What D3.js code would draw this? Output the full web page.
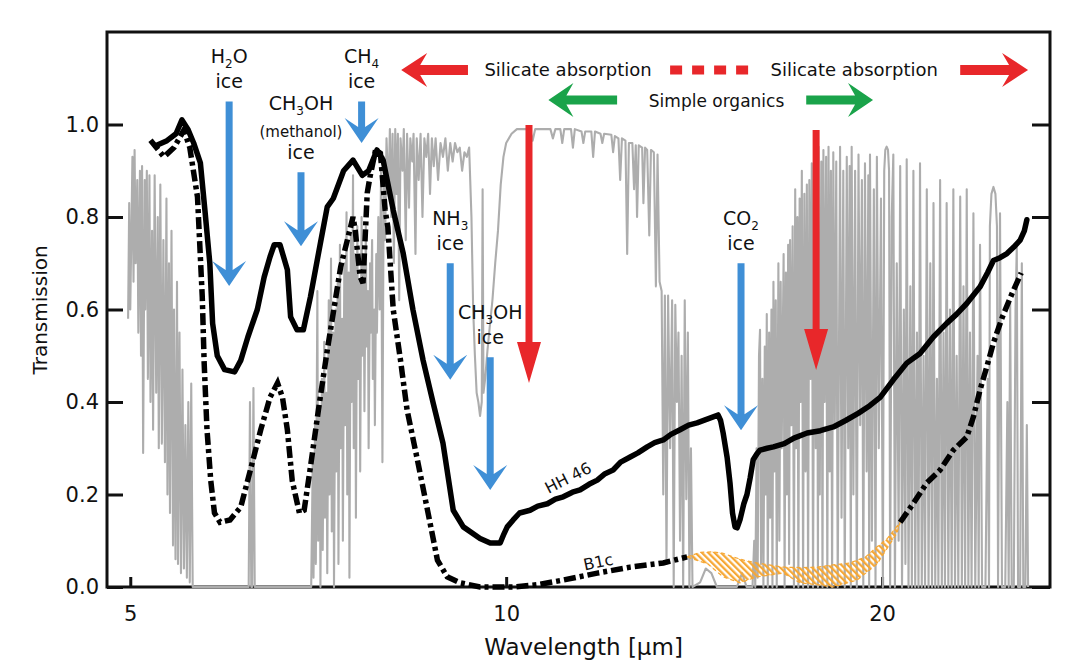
<html>
  <head>
    <title>Ice and silicate absorption</title>
    <script src="https://cdnjs.cloudflare.com/ajax/libs/d3/7.8.5/d3.min.js"></script>
    <meta name="viewport" content="initial-scale=1.0, width=device-width" />
  </head>
  <body>
    <svg id="spectrum"></svg>

    <style>
      body { margin: 0; background: #fff; }
      #spectrum { display: block; font-family: 'DejaVu Sans', sans-serif; }
      .axis path { stroke: none; }
      .axis line { stroke: #111; stroke-width: 3; }
      .axis text { font-family: 'DejaVu Sans', sans-serif; font-size: 21px; fill: #111; }
      .frame { fill: none; stroke: #111; stroke-width: 3; }
      .sky { fill: none; stroke: #adadad; stroke-width: 2.1; stroke-linejoin: round; }
      .hh46 { fill: none; stroke: #000; stroke-width: 5.5; stroke-linejoin: round; stroke-linecap: round; }
      .b1c { fill: none; stroke: #000; stroke-width: 5.5; stroke-dasharray: 12 4 4 4; }
      .label { fill: #111; text-anchor: middle; }
    </style>

    <script>
      // Atmospheric transmission (grey), [wavelength um, transmission]
      const atmosphere = [
        [4.98,0.58],[4.99,0.83],[5.00,0.60],[5.02,0.93],[5.03,0.66],[5.04,0.945],[5.05,0.70],[5.065,0.88],[5.075,0.55],
        [5.09,0.90],[5.10,0.50],[5.11,0.91],[5.12,0.29],[5.135,0.88],[5.14,0.60],[5.155,0.90],[5.165,0.45],[5.18,0.89],
        [5.19,0.40],[5.205,0.77],[5.215,0.34],[5.23,0.89],[5.245,0.42],[5.26,0.80],[5.27,0.30],[5.285,0.87],[5.30,0.31],
        [5.315,0.75],[5.33,0.27],[5.345,0.84],[5.355,0.20],[5.37,0.70],[5.38,0.16],[5.395,0.77],[5.41,0.09],[5.42,0.60],
        [5.435,0.06],[5.45,0.66],[5.46,0.05],[5.475,0.55],[5.49,0.03],[5.505,0.47],[5.52,0.04],[5.535,0.35],[5.55,0.02],
        [5.565,0.40],[5.58,0.01],[5.595,0.44],[5.61,0.0],[6.22,0.0],[6.235,0.40],[6.25,0.0],[6.26,0.0],[6.275,0.43],
        [6.29,0.0],[6.98,0.0],
        [7.00,0.27],[7.01,0.02],[7.03,0.35],[7.04,0.05],[7.06,0.64],[7.07,0.10],[7.09,0.38],[7.10,0.0],[7.12,0.45],
        [7.13,0.08],[7.15,0.53],[7.16,0.15],[7.18,0.42],[7.19,0.03],[7.21,0.62],[7.22,0.20],[7.24,0.71],[7.25,0.12],
        [7.27,0.55],[7.28,0.0],[7.30,0.60],[7.31,0.25],[7.33,0.66],[7.34,0.05],[7.36,0.74],[7.37,0.30],[7.39,0.58],
        [7.40,0.10],[7.42,0.70],[7.43,0.35],[7.45,0.81],[7.46,0.20],[7.48,0.68],[7.49,0.02],[7.51,0.76],[7.52,0.40],
        [7.54,0.89],[7.55,0.30],[7.57,0.72],[7.58,0.15],[7.60,0.78],[7.61,0.45],[7.63,0.66],[7.64,0.25],[7.66,0.80],
        [7.67,0.50],[7.69,0.70],[7.70,0.38],[7.72,0.78],[7.73,0.52],[7.75,0.64],[7.76,0.30],[7.78,0.70],[7.79,0.55],
        [7.81,0.75],[7.82,0.45],[7.84,0.60],[7.85,0.35],[7.87,0.72],[7.88,0.55],[7.90,0.80],[7.92,0.60],[7.94,0.90],
        [7.96,0.27],[7.98,0.93],[8.00,0.75],[8.02,0.97],
        [8.05,0.85],[8.07,0.99],[8.09,0.80],[8.11,0.98],[8.13,0.70],[8.15,0.99],[8.17,0.85],[8.19,0.98],[8.21,0.62],
        [8.23,0.97],[8.26,0.90],[8.28,0.99],[8.31,0.75],[8.33,0.98],[8.36,0.82],[8.38,0.97],[8.41,0.92],[8.43,0.98],
        [8.46,0.72],[8.48,0.97],[8.51,0.88],[8.54,0.98],[8.57,0.80],[8.60,0.97],[8.63,0.93],[8.66,0.98],[8.69,0.85],
        [8.72,0.97],[8.75,0.91],[8.78,0.97],[8.82,0.88],[8.86,0.96],[8.90,0.93],[8.94,0.97],[8.98,0.90],[9.02,0.96],
        [9.06,0.92],[9.10,0.96],[9.14,0.94],[9.18,0.95],[9.22,0.90],[9.26,0.94],[9.30,0.93],
        [9.34,0.95],[9.38,0.80],[9.41,0.60],[9.44,0.50],[9.47,0.42],[9.50,0.40],[9.53,0.37],[9.56,0.40],[9.575,0.86],
        [9.59,0.42],[9.62,0.45],[9.66,0.51],[9.70,0.56],[9.75,0.62],[9.80,0.70],[9.85,0.77],[9.90,0.87],[9.95,0.93],
        [10.0,0.96],[10.1,0.98],
        [10.2,0.99],[10.45,0.99],[10.5,0.965],[10.55,0.99],[10.85,0.99],[10.9,0.97],[10.95,0.99],[11.05,0.99],[11.09,0.96],
        [11.13,0.99],[11.27,0.99],[11.31,0.95],[11.35,0.99],[11.49,0.985],[11.53,0.96],[11.57,0.985],[11.7,0.985],
        [11.74,0.93],[11.78,0.985],[11.9,0.98],[11.94,0.96],[11.98,0.98],[12.14,0.978],[12.18,0.94],[12.22,0.975],
        [12.3,0.97],[12.34,0.88],[12.38,0.97],[12.46,0.965],[12.50,0.72],[12.54,0.96],[12.62,0.96],[12.66,0.86],
        [12.70,0.955],[12.73,0.80],[12.77,0.955],[12.85,0.95],[12.88,0.83],[12.92,0.95],[12.97,0.945],[13.02,0.76],
        [13.06,0.945],[13.13,0.94],[13.18,0.65],[13.22,0.935],[13.27,0.66],[13.32,0.64],[13.36,0.20],[13.40,0.63],
        [13.44,0.05],[13.48,0.63],[13.53,0.30],[13.58,0.62],[13.62,0.0],[13.66,0.61],[13.70,0.40],[13.74,0.55],
        [13.78,0.10],[13.82,0.50],[13.86,0.0],[13.90,0.62],[13.94,0.19],[13.98,0.55],[14.02,0.0],[14.06,0.30],
        [14.10,0.0],[14.30,0.01],[14.45,0.04],[14.60,0.03],[14.75,0.0],[15.30,0.0],[15.45,0.03],[15.58,0.0],[15.75,0.0],
        [15.80,0.10],[15.83,0.0],[15.87,0.30],[15.90,0.02],[15.94,0.50],[15.97,0.556],[16.00,0.05],[16.04,0.45],
        [16.07,0.0],[16.11,0.52],[16.14,0.20],[16.17,0.59],[16.20,0.0],[16.24,0.55],[16.27,0.15],[16.31,0.60],
        [16.34,0.0],[16.37,0.66],[16.40,0.25],[16.44,0.62],[16.47,0.0],[16.52,0.70],[16.55,0.10],[16.59,0.66],
        [16.62,0.30],[16.68,0.72],[16.71,0.0],[16.75,0.68],[16.78,0.20],[16.82,0.74],[16.85,0.05],[16.88,0.75],
        [16.92,0.35],[16.96,0.78],[17.00,0.0],[17.04,0.86],[17.07,0.30],[17.11,0.80],[17.14,0.0],[17.18,0.84],
        [17.21,0.40],[17.25,0.90],[17.29,0.0],[17.33,0.85],[17.37,0.25],[17.41,0.87],[17.45,0.0],[17.49,0.88],
        [17.53,0.45],[17.57,0.916],[17.61,0.0],[17.66,0.90],[17.70,0.30],[17.74,0.93],[17.77,0.0],[17.79,0.952],
        [17.83,0.20],[17.88,0.92],[17.92,0.0],[17.95,0.945],[17.99,0.40],[18.04,0.93],[18.08,0.0],[18.12,0.952],
        [18.16,0.25],[18.20,0.90],[18.24,0.0],[18.28,0.94],[18.33,0.35],[18.38,0.92],[18.43,0.0],[18.51,0.952],
        [18.56,0.15],[18.62,0.90],[18.67,0.0],[18.74,0.93],[18.79,0.30],[18.84,0.91],[18.88,0.0],[18.91,0.952],
        [18.97,0.20],[19.03,0.90],[19.09,0.0],[19.15,0.935],[19.21,0.35],[19.27,0.88],[19.32,0.0],[19.38,0.916],
        [19.44,0.25],[19.50,0.89],[19.53,0.0],[19.56,0.935],[19.63,0.10],[19.70,0.86],[19.76,0.0],[19.81,0.93],
        [19.88,0.30],[19.96,0.84],[20.03,0.0],[20.08,0.90],[20.12,0.945],[20.17,0.952],[20.22,0.945],[20.26,0.90],
        [20.30,0.0],[20.36,0.80],[20.42,0.935],[20.48,0.0],[20.55,0.70],[20.62,0.10],[20.68,0.91],[20.75,0.0],
        [20.82,0.60],[20.88,0.05],[20.93,0.925],[21.00,0.0],[21.07,0.65],[21.13,0.0],[21.19,0.90],[21.26,0.0],
        [21.33,0.55],[21.39,0.0],[21.45,0.916],[21.52,0.0],[21.59,0.50],[21.65,0.0],[21.72,0.86],[21.79,0.0],
        [21.86,0.70],[21.93,0.0],[21.99,0.83],[22.06,0.0],[22.13,0.45],[22.19,0.0],[22.26,0.88],[22.33,0.0],
        [22.40,0.55],[22.46,0.0],[22.53,0.83],[22.60,0.0],[22.67,0.60],[22.74,0.0],[22.81,0.86],[22.88,0.0],
        [22.95,0.50],[23.02,0.0],[23.10,0.844],[23.17,0.0],[23.24,0.65],[23.31,0.0],[23.38,0.86],[23.45,0.0],
        [23.52,0.55],[23.59,0.0],[23.67,0.808],[23.75,0.0],[23.85,0.50],[23.90,0.0],[23.96,0.74],[24.05,0.0],
        [24.20,0.0],[24.30,0.45],[24.36,0.0],[24.40,0.78],[24.47,0.85],[24.56,0.865],[24.65,0.85],[24.72,0.78],
        [24.77,0.0],[24.86,0.808],[24.95,0.0],[25.10,0.0],[25.20,0.40],[25.26,0.0],[25.33,0.614],[25.40,0.0],
        [25.50,0.0],[25.58,0.60],[25.64,0.736],[25.70,0.0],[25.80,0.0],[25.88,0.70],[25.95,0.0],[26.05,0.0],
        [26.12,0.35],[26.18,0.0]
      ];

      // HH 46 protostar spectrum (solid)
      const hh46 = [
        [5.25,0.955],[5.35,0.965],[5.44,0.98],[5.50,1.01],[5.56,0.99],[5.62,0.96],[5.69,0.917],[5.74,0.81],[5.79,0.70],
        [5.82,0.57],[5.87,0.50],[5.95,0.47],[6.06,0.465],[6.13,0.49],[6.21,0.54],[6.32,0.60],[6.40,0.67],[6.47,0.714],
        [6.52,0.74],[6.59,0.74],[6.68,0.686],[6.72,0.584],[6.80,0.556],[6.88,0.556],[6.97,0.627],[7.10,0.744],
        [7.19,0.822],[7.27,0.84],[7.41,0.90],[7.54,0.923],[7.67,0.89],[7.76,0.90],[7.88,0.945],[7.97,0.923],
        [8.12,0.815],[8.27,0.722],[8.42,0.60],[8.58,0.49],[8.74,0.398],[8.90,0.311],[9.07,0.166],[9.24,0.13],
        [9.53,0.105],[9.71,0.095],[9.89,0.095],[9.96,0.115],[10.02,0.13],[10.13,0.145],[10.25,0.16],[10.45,0.166],
        [10.6,0.175],[10.79,0.18],[10.95,0.19],[11.11,0.195],[11.3,0.205],[11.46,0.21],[11.65,0.222],[11.83,0.231],
        [12.0,0.245],[12.18,0.253],[12.35,0.27],[12.57,0.281],[12.75,0.29],[12.97,0.303],[13.15,0.312],[13.36,0.318],
        [13.55,0.33],[13.78,0.34],[14.0,0.35],[14.22,0.355],[14.45,0.362],[14.65,0.368],[14.78,0.372],[14.85,0.36],
        [14.92,0.333],[15.03,0.28],[15.11,0.225],[15.18,0.16],[15.25,0.13],[15.31,0.128],[15.39,0.145],[15.5,0.18],
        [15.59,0.20],[15.68,0.235],[15.77,0.275],[15.88,0.288],[15.97,0.296],[16.18,0.30],[16.37,0.303],[16.7,0.31],
        [17.0,0.322],[17.42,0.333],[17.85,0.338],[18.28,0.346],[18.7,0.36],[19.15,0.376],[19.55,0.392],[19.93,0.41],
        [20.42,0.448],[20.93,0.484],[21.45,0.505],[21.99,0.541],[22.53,0.57],[22.95,0.59],[23.38,0.613],[23.96,0.649],
        [24.30,0.68],[24.56,0.706],[24.86,0.712],[25.18,0.721],[25.50,0.735],[25.80,0.75],[26.0,0.77],[26.12,0.794]
      ];

      // B1c spectrum (dash-dot), short and long wavelength parts
      const b1cShort = [
        [5.19,0.966],[5.32,0.93],[5.42,0.95],[5.52,0.988],[5.58,0.95],[5.66,0.843],[5.71,0.627],[5.73,0.484],
        [5.76,0.34],[5.80,0.23],[5.84,0.16],[5.90,0.14],[6.01,0.145],[6.13,0.173],[6.24,0.253],[6.36,0.34],
        [6.47,0.41],[6.56,0.441],[6.62,0.41],[6.68,0.34],[6.74,0.23],[6.83,0.16],[6.89,0.166],[6.97,0.259],
        [7.08,0.39],[7.19,0.512],[7.37,0.692],[7.54,0.80],[7.57,0.772],[7.64,0.67],[7.68,0.657],[7.74,0.852],
        [7.78,0.887],[7.86,0.945],[7.93,0.938],[8.00,0.815],[8.04,0.778],[8.12,0.60],[8.23,0.49],[8.33,0.383],
        [8.49,0.275],[8.65,0.166],[8.81,0.058],[8.97,0.022],[9.19,0.009],[9.53,0.0],[10.13,0.0],[10.6,0.005],
        [11.11,0.015],[11.83,0.03],[12.57,0.043],[13.36,0.052],[13.96,0.065]
      ];
      const b1cLong = [
        [20.68,0.14],[21.19,0.181],[21.72,0.225],[22.26,0.253],[22.81,0.296],[23.38,0.324],[23.67,0.368],
        [23.96,0.426],[24.26,0.476],[24.56,0.528],[24.97,0.584],[25.43,0.636],[25.85,0.679]
      ];

      // Hatched B1c band between the two parts
      const bandUpper = [
        [13.96,0.065],[14.30,0.075],[14.65,0.076],[14.92,0.073],[15.20,0.065],[15.50,0.058],[15.88,0.052],
        [16.66,0.043],[17.20,0.042],[17.74,0.043],[18.28,0.048],[18.85,0.052],[19.40,0.065],[19.82,0.087],
        [20.20,0.105],[20.68,0.14]
      ];
      const bandLower = [
        [20.56,0.117],[19.82,0.05],[19.10,0.015],[18.28,0.0],[17.74,0.005],[17.20,0.009],[16.66,0.030],
        [16.20,0.025],[15.88,0.022],[15.39,0.009],[14.92,0.022],[14.50,0.05]
      ];

      const yTicks = [0, 0.2, 0.4, 0.6, 0.8, 1.0];
      const xTicks = [5, 10, 20];

      // Ice features: formula [main, subscript, rest], extra lines, wavelength, arrow from/to (transmission)
      const iceFormula = [['H','2','O'], ['CH','3','OH'], ['CH','4',''], ['NH','3',''], ['CH','3','OH'], ['CO','2','']];
      const iceNotes = [['ice'], ['(methanol)','ice'], ['ice'], ['ice'], ['ice'], ['ice']];
      const iceWave = [6.0, 6.85, 7.66, 9.02, 9.71, 15.42];
      const iceFrom = [1.05, 0.897, 1.05, 0.70, 0.497, 0.70];
      const iceTo = [0.651, 0.737, 0.96, 0.448, 0.21, 0.339];

      // Silicate features
      const silicateWave = [10.43, 17.71];
      const silicateFrom = [0.999, 0.988];
      const silicateTo = [0.441, 0.469];

      // Horizontal band arrows [tail, tip]
      const silicateBands = [[9.32, 8.24], [23.10, 26.18]];
      const silicateDash = [13.53, 15.68];
      const silicateText = [11.21, 19.0];
      const organicBands = [[12.27, 10.81], [17.39, 19.67]];
      const organicText = 14.74;

      const blue = '#3f8fd6', red = '#e8272a', green = '#1aa34a', orange = '#f6a734';

      const svgWidth = 1076, svgHeight = 672;
      const plot = {left: 107, right: 1050, top: 32, bottom: 587};

      const x = d3.scaleLog().domain([4.79, 27.26]).range([plot.left, plot.right]);
      const y = d3.scaleLinear().domain([0, 1.2]).range([plot.bottom, plot.top]);

      const svg = d3.select('#spectrum')
        .attr('width', svgWidth)
        .attr('height', svgHeight);

      // hatch pattern for the orange band
      svg.append('defs').append('pattern')
        .attr('id', 'hatch')
        .attr('patternUnits', 'userSpaceOnUse')
        .attr('width', 4.5).attr('height', 4.5)
        .attr('patternTransform', 'rotate(-45)')
        .append('line')
        .attr('x1', 2).attr('y1', 0).attr('x2', 2).attr('y2', 4.5)
        .attr('stroke', orange).attr('stroke-width', 2.3);

      // Axes (ticks point inward)
      svg.append('g')
        .attr('class', 'axis')
        .attr('transform', 'translate(' + plot.left + ',0)')
        .call(d3.axisLeft(y).tickValues(yTicks).tickSize(-16).tickPadding(8).tickFormat(d3.format('.1f')));

      svg.append('g')
        .attr('class', 'axis')
        .attr('transform', 'translate(' + plot.right + ',0)')
        .call(d3.axisRight(y).tickValues(yTicks).tickSize(-18).tickFormat(() => ''));

      svg.append('g')
        .attr('class', 'axis')
        .attr('transform', 'translate(0,' + plot.bottom + ')')
        .call(d3.axisBottom(x).tickValues(xTicks).tickSize(-10).tickPadding(19).tickFormat(d3.format('d')));

      svg.append('rect')
        .attr('class', 'frame')
        .attr('x', plot.left).attr('y', plot.top)
        .attr('width', plot.right - plot.left)
        .attr('height', plot.bottom - plot.top);

      const line = d3.line().x(d => x(d[0])).y(d => y(d[1]));

      // Spectra
      svg.append('path').datum(atmosphere).attr('class', 'sky').attr('d', line);

      svg.append('path')
        .datum(bandUpper.concat(bandLower))
        .attr('d', d => line(d) + 'Z')
        .attr('fill', 'url(#hatch)')
        .attr('stroke', orange)
        .attr('stroke-width', 1.2)
        .attr('stroke-dasharray', '4 3');

      svg.append('path').datum(b1cShort).attr('class', 'b1c').attr('d', line);
      svg.append('path').datum(b1cLong).attr('class', 'b1c').attr('d', line);
      svg.append('path').datum(hh46).attr('class', 'hh46').attr('d', line);

      // Arrow shapes
      function downArrow(cx, y0, y1, shaft, headW, headL, notch) {
        return 'M' + (cx - shaft / 2) + ',' + y0 + 'H' + (cx + shaft / 2) + 'V' + (y1 - notch) +
          'L' + (cx + headW / 2) + ',' + (y1 - headL) + 'L' + cx + ',' + y1 +
          'L' + (cx - headW / 2) + ',' + (y1 - headL) + 'L' + (cx - shaft / 2) + ',' + (y1 - notch) + 'Z';
      }

      function sideArrow(x0, x1, cy, shaft, headH, headL, notch) {
        const k = x1 > x0 ? 1 : -1;
        return 'M' + x0 + ',' + (cy - shaft / 2) + 'H' + (x1 - k * notch) +
          'L' + (x1 - k * headL) + ',' + (cy - headH / 2) + 'L' + x1 + ',' + cy +
          'L' + (x1 - k * headL) + ',' + (cy + headH / 2) + 'L' + (x1 - k * notch) + ',' + (cy + shaft / 2) +
          'H' + x0 + 'Z';
      }

      // Ice arrows and labels
      iceWave.forEach((w, i) => {
        const cx = x(w);
        const top = y(iceFrom[i]);
        svg.append('path')
          .attr('d', downArrow(cx, top, y(iceTo[i]), 7, 34, 25, 16))
          .attr('fill', blue);

        const lines = [iceFormula[i]].concat(iceNotes[i]);
        let base = top - 13;
        for (let j = lines.length - 1; j >= 0; j--) {
          const t = svg.append('text').attr('class', 'label').attr('x', cx).attr('y', base);
          if (Array.isArray(lines[j])) {
            const f = lines[j];
            t.style('font-size', '19px');
            t.append('tspan').text(f[0]);
            t.append('tspan').attr('dy', 5).style('font-size', '12px').text(f[1]);
            if (f[2]) t.append('tspan').attr('dy', -5).text(f[2]);
          } else {
            t.style('font-size', lines[j].startsWith('(') ? '15px' : '19px').text(lines[j]);
          }
          if (j > 0) {
            const small = typeof lines[j] === 'string' && lines[j].startsWith('(');
            const aboveSmall = typeof lines[j - 1] === 'string' && lines[j - 1].startsWith('(');
            base -= small ? 27 : (aboveSmall ? 22 : 25);
          }
        }
      });

      // Silicate arrows
      silicateWave.forEach((w, i) => {
        svg.append('path')
          .attr('d', downArrow(x(w), y(silicateFrom[i]), y(silicateTo[i]), 7, 24, 41, 41))
          .attr('fill', red);
      });

      silicateBands.forEach(b => {
        svg.append('path')
          .attr('d', sideArrow(x(b[0]), x(b[1]), y(1.118), 10, 34, 26, 19))
          .attr('fill', red);
      });

      svg.append('line')
        .attr('x1', x(silicateDash[0])).attr('x2', x(silicateDash[1]))
        .attr('y1', y(1.118)).attr('y2', y(1.118))
        .attr('stroke', red).attr('stroke-width', 9)
        .attr('stroke-dasharray', '12 10');

      silicateText.forEach(w => {
        svg.append('text').attr('class', 'label')
          .attr('x', x(w)).attr('y', y(1.105))
          .style('font-size', '18px')
          .text('Silicate absorption');
      });

      organicBands.forEach(b => {
        svg.append('path')
          .attr('d', sideArrow(x(b[0]), x(b[1]), y(1.053), 9, 34, 25, 18))
          .attr('fill', green);
      });

      svg.append('text').attr('class', 'label')
        .attr('x', x(organicText)).attr('y', y(1.038))
        .style('font-size', '17px')
        .text('Simple organics');

      // Curve names
      svg.append('text').attr('class', 'label')
        .attr('transform', 'translate(' + x(11.21) + ',' + y(0.236) + ') rotate(-27)')
        .attr('dy', '0.35em')
        .style('font-size', '16px')
        .text('HH 46');

      svg.append('text').attr('class', 'label')
        .attr('transform', 'translate(' + x(11.85) + ',' + y(0.054) + ') rotate(-12)')
        .attr('dy', '0.35em')
        .style('font-size', '16px')
        .text('B1c');

      // Axis titles
      svg.append('text').attr('class', 'label')
        .attr('transform', 'translate(40,310) rotate(-90)')
        .attr('dy', '0.35em')
        .style('font-size', '20px')
        .text('Transmission');

      svg.append('text').attr('class', 'label')
        .attr('x', (plot.left + plot.right) / 2 + 5).attr('y', 655)
        .style('font-size', '23px')
        .text('Wavelength [\u00b5m]');
    </script>
  </body>
</html>
